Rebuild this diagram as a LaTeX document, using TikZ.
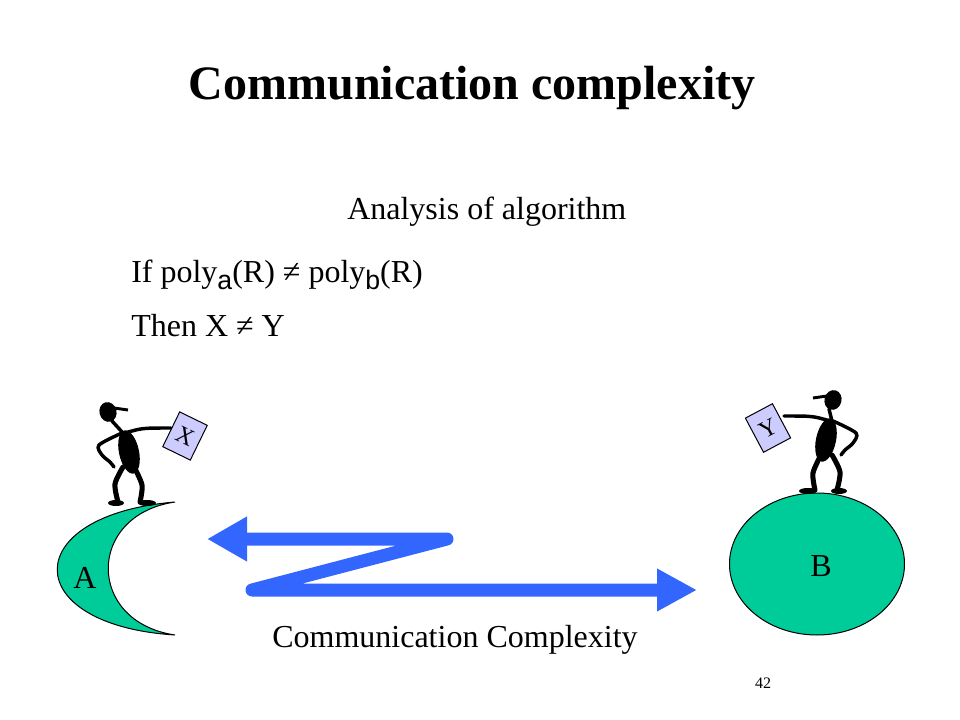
\documentclass[tikz,border=0pt]{standalone}
\usepackage{fontspec}
\setmainfont{Liberation Serif}
\setsansfont{Liberation Sans}
\usetikzlibrary{arrows.meta}
\definecolor{planet}{HTML}{00CC99}
\definecolor{zblue}{HTML}{3366FF}
\definecolor{sheet}{HTML}{CCCCFF}
\newcommand\lowsub[1]{\raisebox{-5.5pt}{\sffamily\fontsize{20}{20}\selectfont #1}}

\tikzset{
  limb/.style={line width=2.6pt,line cap=round,line join=round},
  legline/.style={line width=3.8pt,line cap=round,line join=round},
  pics/stickman/.style={code={
    % head and cap
    \fill[rotate around={15:(#1,-93)}] (#1,-93) ellipse (8.5 and 10);
    \draw[line width=2.2pt] (#1+6,-97) -- (#1+20,-95);
    \draw[limb] (#1+4,-84) -- (-7,-72);
    % body
    \fill[rotate around={12:(-1,-53)}] (-1,-53) ellipse (10 and 22);
    % arms
    \draw[limb] (-5,-72) .. controls (12,-77) .. (41,-77);
    \draw[limb] plot[smooth] coordinates {(-8,-72) (-31,-60) (-28,-50) (-20,-43) (-16,-38)};
    % legs and feet
    \draw[legline] plot[smooth] coordinates {(-7,-38) (-15,-21) (-12,-3)};
    \draw[legline] plot[smooth] coordinates {(4,-38) (12,-20) (10,-3)};
    \fill (-14,-2) ellipse (8 and 3);
    \fill (17,-2) ellipse (9 and 3);
  }}
}

\begin{document}
\begin{tikzpicture}[x=0.75pt,y=-0.75pt,
    body/.style={inner sep=0pt,font=\fontsize{24}{24}\selectfont},
    planetfill/.style={fill=planet,draw=black,line width=0.75pt},
    paper/.style={draw,fill=sheet,line width=0.75pt,minimum width=23pt,minimum height=29pt,inner sep=0pt,font=\fontsize{18}{18}\selectfont},
    zarrow/.style={zblue,line width=9.75pt,line join=round,line cap=round,{Triangle[length=30pt,width=31.5pt]}-{Triangle[length=30pt,width=30pt]}}]
\useasboundingbox (0,0) rectangle (960,720);

\node[inner sep=0pt,anchor=base,font=\fontsize{36}{36}\selectfont\bfseries] (title) at (472,100) {Communication complexity};
\node[body,anchor=base west] (analysis) at (347,220) {Analysis of algorithm};
\node[body,anchor=base west] (cond) at (131,282) {If poly\lowsub{a}(R) ≠ poly\lowsub{b}(R)};
\node[body,anchor=base west] (concl) at (131,336) {Then X ≠ Y};

% the two planets
\filldraw[planetfill] (175,502) .. controls (18,515) and (18,625) .. (175,635) .. controls (86,622) and (86,515) .. (175,502) -- cycle;
\filldraw[planetfill] (817,564) ellipse (87.5 and 71);
\node[body] (A) at (85,578) {A};
\node[body] (B) at (821,566) {B};

\foreach \px/\py/\s/\hx in {130/505/1/-22,825/493/-1/-8}
  \pic[xscale=\s] at (\px,\py) {stickman=\hx};
\foreach \bx/\by/\r/\t in {185/436/-26/X,768/428/28/Y}
  \node[paper,rotate=\r] (box\t) at (\bx,\by) {\t};

% messages
\coordinate (za) at (207,539);
\coordinate (zb) at (447,539);
\coordinate (zc) at (252,590);
\coordinate (zd) at (697,590);
\draw[zarrow] (za) -- (zb) -- (zc) -- (zd);

\node[body,anchor=base west] (cc) at (272,647) {Communication Complexity};
\node[inner sep=0pt,anchor=base,font=\fontsize{12}{12}\selectfont] (page) at (763,688) {42};
\end{tikzpicture}
\end{document}
